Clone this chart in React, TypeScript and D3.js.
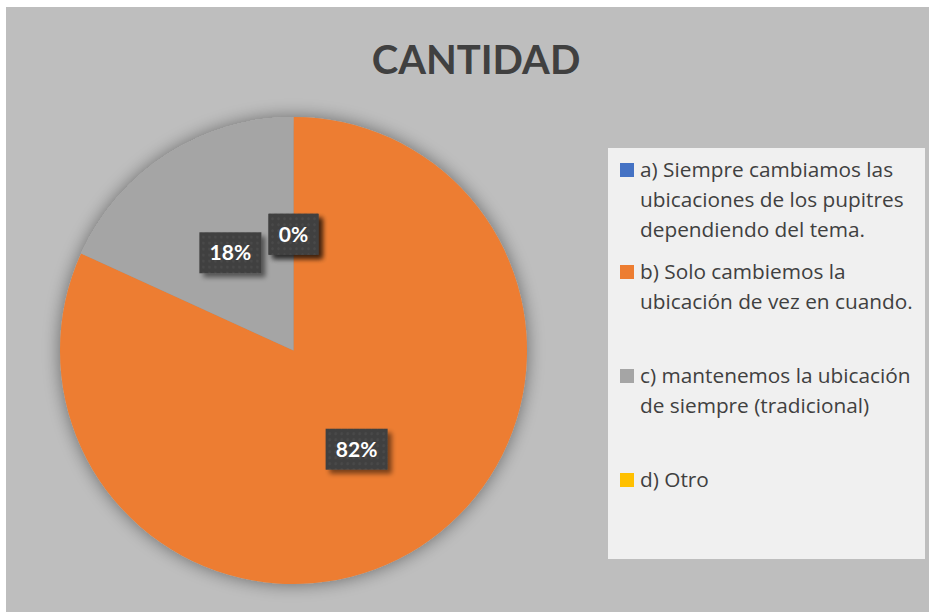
import React from 'react';
import * as d3 from 'd3';

const categories = [
  'a) Siempre cambiamos las ubicaciones de los pupitres dependiendo del tema.',
  'b) Solo cambiemos la ubicación de vez en cuando.',
  'c) mantenemos la ubicación de siempre (tradicional)',
  'd) Otro',
];
// legend text as wrapped in the reference
const legendLines = [
  ['a) Siempre cambiamos las', 'ubicaciones de los pupitres', 'dependiendo del tema.'],
  ['b) Solo cambiemos la', 'ubicación de vez en cuando.'],
  ['c) mantenemos la ubicación', 'de siempre (tradicional)'],
  ['d) Otro'],
];
const cantidad = [0, 9, 2, 0];
const colors = ['#4472c4', '#ed7d31', '#a5a5a5', '#ffc000'];
const title = 'CANTIDAD';

const W = 929;
const H = 612;
const cx = 293.5;
const cy = 350.5;
const R = 233.5;
const font = 'Lato, "Open Sans", sans-serif';
const legendFont = '"Open Sans", sans-serif';

export default function App() {
  const total = d3.sum(cantidad);
  const pie = d3.pie<number>().sort(null).value(d => d);
  const arcs = pie(cantidad);
  const arc = d3.arc<d3.PieArcDatum<number>>().innerRadius(0).outerRadius(R);
  const pct = d3.format('.0%');

  const legendY = d3.scaleOrdinal<number, number>()
    .domain([0, 1, 2, 3])
    .range([177, 279, 383, 487]);

  return (
    <svg width={W} height={H} style={{ position: 'absolute', left: 0, top: 0 }}>
      <defs>
        <filter id="pieShadow" x="-30%" y="-30%" width="160%" height="160%">
          <feGaussianBlur in="SourceAlpha" stdDeviation="9" />
          <feOffset dx="0" dy="0" result="b" />
          <feComponentTransfer><feFuncA type="linear" slope="0.45" /></feComponentTransfer>
          <feMerge><feMergeNode /><feMergeNode in="SourceGraphic" /></feMerge>
        </filter>
        <filter id="boxShadow" x="-30%" y="-30%" width="170%" height="170%">
          <feGaussianBlur in="SourceAlpha" stdDeviation="2.5" />
          <feOffset dx="4" dy="4" />
          <feComponentTransfer><feFuncA type="linear" slope="0.5" /></feComponentTransfer>
          <feMerge><feMergeNode /><feMergeNode in="SourceGraphic" /></feMerge>
        </filter>
        <pattern id="dots" width="6" height="6" patternUnits="userSpaceOnUse">
          <rect width="6" height="6" fill="#404040" />
          <circle cx="3" cy="3" r="1.4" fill="#4a4a4a" />
        </pattern>
      </defs>
      <rect x={6} y={7} width={W - 6} height={H - 7} fill="#bebebe" />
      <text x={476} y={74} textAnchor="middle" fontFamily={font} fontWeight="bold"
        fontSize={40} fill="#404040">{title}</text>

      <g transform={`translate(${cx},${cy})`} filter="url(#pieShadow)">
        {arcs.map((a, i) => (
          <path key={i} d={arc(a) || ''} fill={colors[i]} />
        ))}
      </g>

      <g transform={`translate(${cx},${cy})`}>
        {arcs.map((a, i) => {
          const [x, y] = arc.centroid(a);
          const label = pct(cantidad[i] / total);
          const bw = label.length === 2 ? 50 : 62;
          return (
            <g key={i} transform={`translate(${x},${y})`}>
              <rect x={-bw / 2} y={-20} width={bw} height={41} fill="url(#dots)" filter="url(#boxShadow)" />
              <text x={0} y={8} textAnchor="middle" fontFamily={font} fontWeight="bold"
                fontSize={21} fill="#ffffff">{label}</text>
            </g>
          );
        })}
      </g>

      <rect x={608} y={148} width={317} height={411} fill="#f0f0f0" />
      {categories.map((c, i) => (
        <g key={c}>
          <rect x={620} y={legendY(i) - 14} width={14} height={14} fill={colors[i]} />
          <text fontFamily={legendFont} fontSize={20.8} fill="#404040">
            {legendLines[i].map((ln, j) => (
              <tspan key={j} x={640} y={legendY(i) + j * 30}>{ln}</tspan>
            ))}
          </text>
        </g>
      ))}
    </svg>
  );
}
